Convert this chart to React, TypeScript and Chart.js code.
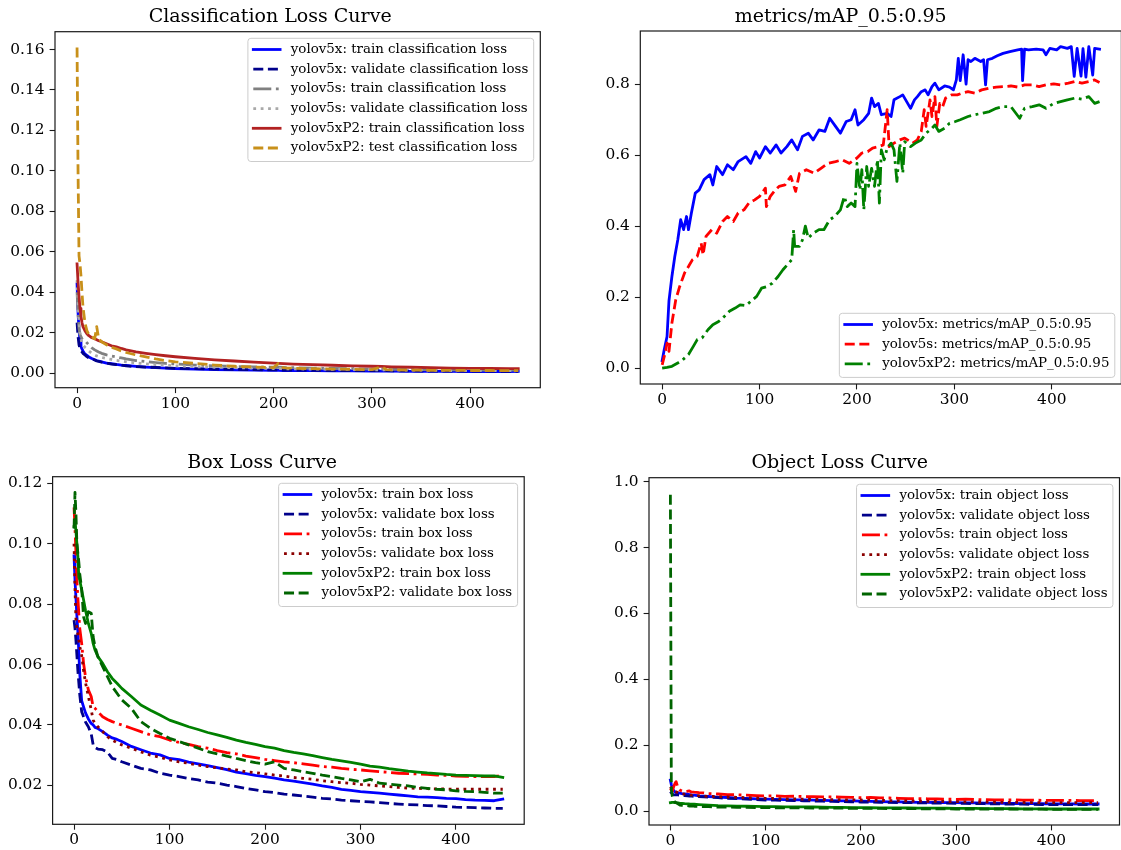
import React, { useEffect, useRef } from "react";
import { Chart, registerables } from "chart.js";

Chart.register(...registerables);

const FONT = "'DejaVu Serif', serif";

// ---------- x ticks (epochs) ----------
const X_TICKS = [0, 100, 200, 300, 400];

// ---------- Classification loss ----------
const CLS_EPOCHS = [0,1,2,3,4,5,6,8,10,12,15,18,20,22,25,30,35,40,45,50,60,70,80,90,100,120,140,160,180,200,205,210,220,240,260,280,300,310,315,320,340,360,380,400,420,440,449];
const CLS_X_TRAIN = [0.044,0.030,0.021,0.016,0.013,0.012,0.011,0.0095,0.0088,0.008,0.0072,0.0066,0.0062,0.006,0.0056,0.005,0.0047,0.0043,0.004,0.0038,0.0033,0.003,0.0027,0.0025,0.0023,0.002,0.0018,0.0016,0.0015,0.0014,0.0014,0.0013,0.0013,0.0012,0.0011,0.0011,0.001,0.001,0.001,0.001,0.0009,0.0009,0.0009,0.0008,0.0008,0.0008,0.0009];
const CLS_X_VAL = [0.025,0.018,0.014,0.012,0.011,0.0105,0.0098,0.009,0.0082,0.0075,0.007,0.0065,0.006,0.0058,0.0055,0.005,0.0045,0.0042,0.004,0.0036,0.0032,0.003,0.0028,0.0026,0.0024,0.0022,0.002,0.0019,0.0017,0.0016,0.0016,0.0015,0.0015,0.0014,0.0013,0.0013,0.0012,0.0012,0.0012,0.0011,0.0011,0.001,0.001,0.001,0.001,0.0009,0.0009];
const CLS_S_TRAIN = [0.04,0.03,0.022,0.019,0.018,0.017,0.0165,0.016,0.015,0.014,0.0125,0.0115,0.011,0.0105,0.0098,0.009,0.0085,0.008,0.0075,0.007,0.0062,0.0057,0.0052,0.0048,0.0045,0.004,0.0036,0.0033,0.0031,0.0029,0.0029,0.0028,0.0027,0.0025,0.0023,0.0022,0.002,0.002,0.002,0.0019,0.0018,0.0017,0.0016,0.0016,0.0015,0.0015,0.0015];
const CLS_S_VAL = [0.046,0.035,0.025,0.02,0.017,0.015,0.014,0.0128,0.012,0.011,0.0098,0.009,0.0085,0.0082,0.0078,0.0072,0.0068,0.0063,0.006,0.0056,0.005,0.0046,0.0042,0.0039,0.0036,0.0032,0.0029,0.0027,0.0025,0.0023,0.0023,0.0022,0.0021,0.002,0.0019,0.0018,0.0017,0.0016,0.0016,0.0016,0.0015,0.0014,0.0013,0.0013,0.0012,0.0012,0.0012];
const CLS_P2_TRAIN = [0.054,0.045,0.038,0.032,0.028,0.025,0.023,0.021,0.0195,0.0185,0.0175,0.017,0.0165,0.016,0.0155,0.0145,0.0135,0.013,0.0122,0.0115,0.0105,0.0098,0.0092,0.0086,0.0081,0.0073,0.0066,0.006,0.0054,0.0049,0.0048,0.0047,0.0045,0.0042,0.0039,0.0036,0.0034,0.0033,0.0032,0.0031,0.0029,0.0027,0.0025,0.0024,0.0023,0.0022,0.0022];
const CLS_P2_TEST = [0.161,0.1,0.058,0.054,0.048,0.04,0.033,0.025,0.021,0.019,0.018,0.017,0.023,0.017,0.0155,0.014,0.0128,0.012,0.011,0.0102,0.009,0.008,0.007,0.0062,0.0056,0.0048,0.004,0.0034,0.003,0.0027,0.0048,0.0026,0.0024,0.0022,0.002,0.0019,0.0017,0.0032,0.0017,0.0016,0.0015,0.0014,0.0014,0.0013,0.0013,0.0012,0.0012];
const CLS_Y_TICKS = [0, 0.02, 0.04, 0.06, 0.08, 0.1, 0.12, 0.14, 0.16];

// ---------- mAP 0.5:0.95 ----------
const MAP_X_EPOCHS = [0,2,5,7,10,13,16,19,22,25,27,30,34,38,43,49,52,56,62,67,73,78,86,91,96,100,106,111,117,122,128,133,139,144,150,155,161,167,172,178,183,189,194,198,201,207,212,215,218,222,225,231,235,238,244,247,251,255,259,262,266,270,273,277,280,284,290,295,299,302,304,306,309,312,314,317,321,327,330,332,334,339,344,350,357,365,369,370,372,376,384,391,394,398,405,409,416,420,423,426,430,432,435,438,442,444,449];
const MAP_X = [0.021,0.05,0.089,0.19,0.258,0.315,0.361,0.418,0.39,0.427,0.39,0.437,0.493,0.502,0.531,0.545,0.516,0.568,0.545,0.573,0.559,0.582,0.596,0.577,0.61,0.592,0.624,0.606,0.629,0.606,0.624,0.643,0.615,0.653,0.662,0.643,0.671,0.667,0.704,0.681,0.662,0.695,0.70,0.728,0.685,0.70,0.718,0.761,0.737,0.746,0.714,0.718,0.709,0.756,0.765,0.77,0.751,0.732,0.756,0.765,0.779,0.784,0.77,0.793,0.803,0.784,0.795,0.792,0.784,0.812,0.873,0.81,0.883,0.80,0.869,0.864,0.873,0.864,0.869,0.798,0.869,0.873,0.88,0.887,0.892,0.897,0.899,0.81,0.899,0.897,0.899,0.897,0.883,0.901,0.897,0.906,0.901,0.906,0.822,0.901,0.823,0.90,0.82,0.906,0.826,0.901,0.899];
const MAP_S_EPOCHS = [0,3,5,7,10,14,18,23,27,31,36,40,42,45,51,56,62,67,73,78,84,89,95,100,106,107,111,115,120,126,132,137,141,148,156,163,170,178,185,192,200,205,211,216,222,227,231,233,238,244,249,257,262,266,269,271,275,277,280,282,285,288,291,297,303,308,314,321,328,336,343,350,358,365,372,380,387,394,402,409,417,424,431,439,444,449];
const MAP_S = [0.009,0.042,0.07,0.047,0.127,0.193,0.23,0.268,0.286,0.305,0.315,0.352,0.319,0.371,0.39,0.38,0.413,0.427,0.413,0.437,0.446,0.465,0.474,0.484,0.507,0.455,0.484,0.498,0.512,0.516,0.54,0.498,0.549,0.559,0.549,0.563,0.577,0.582,0.587,0.577,0.592,0.606,0.61,0.62,0.624,0.629,0.728,0.624,0.634,0.643,0.648,0.634,0.643,0.667,0.728,0.681,0.756,0.709,0.765,0.681,0.746,0.737,0.761,0.77,0.77,0.775,0.779,0.775,0.784,0.789,0.792,0.793,0.795,0.792,0.798,0.798,0.793,0.798,0.801,0.798,0.803,0.808,0.803,0.808,0.812,0.805];
const MAP_P2_EPOCHS = [0,5,10,16,21,27,32,36,41,47,52,58,64,69,75,80,86,91,97,102,108,113,119,124,130,133,135,136,141,144,147,150,155,161,166,172,177,183,187,190,194,198,200,203,205,207,210,212,215,218,221,223,225,228,231,235,238,241,244,247,249,255,260,266,271,277,280,284,290,295,301,306,314,321,328,336,343,350,358,367,372,380,387,394,402,409,416,424,431,438,444,449];
const MAP_P2 = [0,0.002,0.005,0.014,0.023,0.038,0.061,0.08,0.085,0.108,0.122,0.131,0.146,0.16,0.169,0.178,0.176,0.188,0.202,0.225,0.23,0.239,0.258,0.277,0.296,0.305,0.39,0.343,0.343,0.361,0.40,0.366,0.38,0.39,0.39,0.418,0.427,0.446,0.484,0.455,0.465,0.455,0.577,0.502,0.559,0.446,0.568,0.512,0.563,0.512,0.587,0.465,0.615,0.587,0.62,0.634,0.615,0.526,0.634,0.549,0.638,0.624,0.634,0.643,0.662,0.676,0.685,0.667,0.676,0.69,0.695,0.70,0.709,0.714,0.718,0.723,0.732,0.737,0.737,0.704,0.732,0.737,0.742,0.732,0.746,0.751,0.756,0.761,0.758,0.765,0.746,0.751];
const MAP_Y_TICKS = [0, 0.2, 0.4, 0.6, 0.8];

// ---------- Box / Object loss ----------
const LOSS_EPOCHS = [0,1,2,3,4,5,6,8,10,12,15,18,20,22,25,30,35,40,45,50,60,70,80,90,100,110,120,130,140,150,160,170,180,190,200,210,220,230,240,250,260,270,280,290,300,310,320,330,340,350,360,370,380,390,400,410,420,430,440,449];

const BOX_X_TRAIN = [0.096,0.088,0.082,0.076,0.071,0.064,0.057,0.048,0.046,0.044,0.042,0.0405,0.040,0.0392,0.0388,0.0378,0.0366,0.0357,0.0352,0.0345,0.0329,0.0318,0.0307,0.0301,0.0289,0.0285,0.0277,0.0271,0.0265,0.0259,0.0252,0.0244,0.0239,0.0233,0.0229,0.0224,0.0218,0.0214,0.0209,0.0204,0.0198,0.0193,0.0187,0.0183,0.0179,0.0177,0.0174,0.0171,0.0168,0.0165,0.0162,0.0161,0.0159,0.0157,0.0156,0.0153,0.0151,0.015,0.0149,0.0154];
const BOX_X_VAL = [0.0747,0.072,0.068,0.063,0.058,0.054,0.05,0.0444,0.0427,0.041,0.0394,0.037,0.0335,0.0325,0.032,0.0318,0.031,0.0289,0.0285,0.0278,0.0267,0.0256,0.0251,0.024,0.0234,0.0229,0.0223,0.0218,0.0211,0.0207,0.0201,0.0196,0.019,0.0185,0.0179,0.0176,0.0171,0.0168,0.0165,0.0161,0.0157,0.0155,0.0151,0.0149,0.0147,0.0145,0.0143,0.014,0.0138,0.0136,0.0135,0.0133,0.0132,0.013,0.0128,0.0127,0.0126,0.0125,0.0124,0.0124];
const BOX_S_TRAIN = [0.112,0.105,0.097,0.088,0.082,0.077,0.072,0.067,0.0604,0.056,0.0516,0.0494,0.046,0.0455,0.0444,0.0427,0.0418,0.0411,0.0405,0.04,0.0389,0.0378,0.0367,0.0361,0.035,0.0342,0.0336,0.0328,0.0323,0.0315,0.0308,0.0304,0.0297,0.0292,0.0286,0.0282,0.0278,0.0275,0.0271,0.0267,0.0262,0.026,0.0256,0.0253,0.0251,0.0248,0.0245,0.0243,0.024,0.0239,0.0238,0.0236,0.0234,0.0233,0.0231,0.023,0.0229,0.0229,0.0229,0.0234];
const BOX_S_VAL = [0.1,0.085,0.075,0.072,0.07,0.068,0.066,0.063,0.058,0.054,0.0494,0.045,0.0416,0.0405,0.0394,0.0378,0.0361,0.035,0.0341,0.0334,0.0323,0.0311,0.03,0.0293,0.0284,0.0278,0.0273,0.0267,0.0262,0.0258,0.0254,0.0251,0.0245,0.0242,0.0238,0.0234,0.0231,0.0226,0.0223,0.022,0.0215,0.0212,0.0209,0.0207,0.0203,0.0201,0.0198,0.0196,0.0193,0.0191,0.019,0.0189,0.0188,0.0188,0.0187,0.0187,0.0187,0.0187,0.0187,0.0187];
const BOX_P2_TRAIN = [0.1057,0.108,0.104,0.1,0.096,0.089,0.088,0.0847,0.0814,0.078,0.0736,0.0703,0.067,0.0648,0.0626,0.0604,0.0576,0.0554,0.0538,0.0521,0.0494,0.0466,0.0449,0.0433,0.0416,0.0405,0.0394,0.0385,0.0375,0.0367,0.0359,0.035,0.0342,0.0336,0.0328,0.0323,0.0315,0.0309,0.0304,0.0298,0.0292,0.0286,0.0281,0.0276,0.027,0.0264,0.026,0.0255,0.0251,0.0247,0.0244,0.0241,0.0239,0.0236,0.0234,0.0233,0.0232,0.0231,0.0231,0.0226];
const BOX_P2_VAL = [0.105,0.117,0.11,0.1,0.097,0.094,0.09,0.085,0.0758,0.0736,0.0775,0.077,0.0692,0.0659,0.0626,0.0593,0.056,0.0527,0.0505,0.0483,0.0455,0.0411,0.0389,0.0372,0.0356,0.0345,0.0334,0.0323,0.0312,0.0304,0.0297,0.0289,0.0282,0.0275,0.027,0.0278,0.0256,0.0251,0.0245,0.024,0.0234,0.0229,0.0223,0.0218,0.0212,0.022,0.0207,0.0204,0.0201,0.0198,0.0193,0.019,0.0187,0.0185,0.0182,0.018,0.0179,0.0177,0.0174,0.0174];
const BOX_Y_TICKS = [0.02, 0.04, 0.06, 0.08, 0.1, 0.12];

const OBJ_X_TRAIN = [0.094,0.08,0.07,0.064,0.06,0.058,0.056,0.055,0.054,0.053,0.052,0.051,0.05,0.049,0.048,0.046,0.045,0.044,0.043,0.042,0.041,0.039,0.038,0.037,0.036,0.0352,0.0345,0.034,0.0335,0.033,0.0322,0.0316,0.031,0.0305,0.0298,0.0292,0.0285,0.028,0.0275,0.027,0.0265,0.0262,0.0258,0.0255,0.0252,0.0248,0.0244,0.024,0.0236,0.0232,0.0228,0.0225,0.0222,0.022,0.0218,0.0216,0.0214,0.0213,0.0212,0.0212];
const OBJ_X_VAL = [0.059,0.055,0.052,0.05,0.049,0.049,0.0488,0.0487,0.0486,0.048,0.047,0.046,0.0455,0.045,0.0445,0.0435,0.043,0.042,0.0412,0.0405,0.0385,0.0375,0.0362,0.035,0.0334,0.0328,0.0322,0.0316,0.031,0.0304,0.0298,0.0292,0.0286,0.028,0.0273,0.027,0.0266,0.0262,0.0257,0.0253,0.0249,0.0245,0.0241,0.0237,0.0233,0.0229,0.0225,0.0221,0.0217,0.0213,0.021,0.0206,0.0202,0.0198,0.0194,0.0193,0.0193,0.0192,0.0192,0.0192];
const OBJ_S_TRAIN = [0.069,0.064,0.06,0.07,0.078,0.085,0.089,0.07,0.064,0.061,0.059,0.06,0.061,0.058,0.057,0.0557,0.055,0.053,0.0525,0.0516,0.05,0.049,0.048,0.0465,0.0455,0.046,0.0445,0.0448,0.0438,0.0435,0.043,0.0428,0.042,0.0415,0.0405,0.041,0.0398,0.0395,0.0385,0.0375,0.0378,0.037,0.0365,0.036,0.0354,0.0358,0.035,0.0345,0.034,0.0334,0.0338,0.033,0.0328,0.0325,0.0324,0.0322,0.032,0.0318,0.0316,0.0314];
const OBJ_S_VAL = [0.074,0.07,0.065,0.062,0.06,0.059,0.058,0.056,0.0536,0.052,0.051,0.0495,0.0486,0.048,0.0472,0.046,0.045,0.0445,0.044,0.0435,0.0425,0.0415,0.0405,0.0395,0.0385,0.0378,0.0372,0.0366,0.036,0.0354,0.035,0.0346,0.0342,0.0338,0.0334,0.0328,0.0322,0.0316,0.031,0.0304,0.03,0.0296,0.0292,0.0288,0.0283,0.0279,0.0275,0.0271,0.0267,0.0263,0.0261,0.0259,0.0257,0.0255,0.0253,0.0253,0.0253,0.0253,0.0253,0.0253];
const OBJ_P2_TRAIN = [0.0253,0.0258,0.026,0.026,0.0258,0.0255,0.0252,0.0245,0.0233,0.0228,0.0222,0.0218,0.0213,0.021,0.0205,0.0196,0.0187,0.018,0.0172,0.0162,0.0155,0.015,0.0145,0.014,0.0132,0.013,0.0128,0.0126,0.0124,0.0121,0.0117,0.0113,0.0109,0.0105,0.0101,0.0099,0.0097,0.0095,0.0093,0.0091,0.0089,0.0087,0.0085,0.0083,0.0081,0.0079,0.0077,0.0075,0.0073,0.0071,0.0069,0.0067,0.0065,0.0063,0.0061,0.0061,0.0061,0.0061,0.0061,0.0061];
const OBJ_P2_VAL = [0.96,0.065,0.045,0.035,0.03,0.027,0.025,0.022,0.0182,0.0175,0.017,0.016,0.0152,0.015,0.0145,0.014,0.0135,0.013,0.0125,0.0121,0.0117,0.0113,0.011,0.0105,0.0101,0.0099,0.0097,0.0095,0.0093,0.0091,0.0089,0.0087,0.0085,0.0083,0.0081,0.0079,0.0077,0.0075,0.0073,0.0071,0.0069,0.0067,0.0065,0.0063,0.0061,0.0061,0.0061,0.0061,0.0061,0.0061,0.006,0.0058,0.0056,0.0054,0.0052,0.0051,0.0051,0.0051,0.0051,0.0051];
const OBJ_Y_TICKS = [0, 0.2, 0.4, 0.6, 0.8, 1.0];

// ---------- styles ----------
const LW = 2.8;
const SOLID: number[] = [];
const DASHED = [10, 4.6];
const DOTTED = [2.8, 4.6];
const DASHDOT = [18, 4.6, 2.8, 4.6];

type Series = { label: string; x: number[]; y: number[]; color: string; dash: number[] };

type PanelSpec = {
  title: string;
  left: number; top: number; w: number; h: number;
  yAxisW: number; xAxisH: number; padRight: number;
  titlePadTop: number; titlePadBottom: number;
  yMin: number; yMax: number; yTicks: number[]; yDec: number;
  legendLoc: "upper right" | "lower right";
  series: Series[];
};

const PANELS: PanelSpec[] = [
  {
    title: "Classification Loss Curve",
    left: 0, top: 0, w: 560, h: 425,
    yAxisW: 55, xAxisH: 37.3, padRight: 19.7,
    titlePadTop: 6, titlePadBottom: 2.9,
    yMin: -0.0072, yMax: 0.1688, yTicks: CLS_Y_TICKS, yDec: 2,
    legendLoc: "upper right",
    series: [
      { label: "yolov5x: train classification loss", x: CLS_EPOCHS, y: CLS_X_TRAIN, color: "#0000ff", dash: SOLID },
      { label: "yolov5x: validate classification loss", x: CLS_EPOCHS, y: CLS_X_VAL, color: "#00008b", dash: DASHED },
      { label: "yolov5s: train classification loss", x: CLS_EPOCHS, y: CLS_S_TRAIN, color: "#808080", dash: DASHDOT },
      { label: "yolov5s: validate classification loss", x: CLS_EPOCHS, y: CLS_S_VAL, color: "#a9a9a9", dash: DOTTED },
      { label: "yolov5xP2: train classification loss", x: CLS_EPOCHS, y: CLS_P2_TRAIN, color: "#b22222", dash: SOLID },
      { label: "yolov5xP2: test classification loss", x: CLS_EPOCHS, y: CLS_P2_TEST, color: "#c8901a", dash: DASHED },
    ],
  },
  {
    title: "metrics/mAP_0.5:0.95",
    left: 560, top: 0, w: 570, h: 425,
    yAxisW: 80.3, xAxisH: 41, padRight: 8.6,
    titlePadTop: 6, titlePadBottom: 2.2,
    yMin: -0.045, yMax: 0.95, yTicks: MAP_Y_TICKS, yDec: 1,
    legendLoc: "lower right",
    series: [
      { label: "yolov5x: metrics/mAP_0.5:0.95", x: MAP_X_EPOCHS, y: MAP_X, color: "#0000ff", dash: SOLID },
      { label: "yolov5s: metrics/mAP_0.5:0.95", x: MAP_S_EPOCHS, y: MAP_S, color: "#ff0000", dash: DASHED },
      { label: "yolov5xP2: metrics/mAP_0.5:0.95", x: MAP_P2_EPOCHS, y: MAP_P2, color: "#008000", dash: DASHDOT },
    ],
  },
  {
    title: "Box Loss Curve",
    left: 0, top: 425, w: 560, h: 425,
    yAxisW: 52.6, xAxisH: 25.7, padRight: 35.8,
    titlePadTop: 27, titlePadBottom: 1.9,
    yMin: 0.0071, yMax: 0.1222, yTicks: BOX_Y_TICKS, yDec: 2,
    legendLoc: "upper right",
    series: [
      { label: "yolov5x: train box loss", x: LOSS_EPOCHS, y: BOX_X_TRAIN, color: "#0000ff", dash: SOLID },
      { label: "yolov5x: validate box loss", x: LOSS_EPOCHS, y: BOX_X_VAL, color: "#00008b", dash: DASHED },
      { label: "yolov5s: train box loss", x: LOSS_EPOCHS, y: BOX_S_TRAIN, color: "#ff0000", dash: DASHDOT },
      { label: "yolov5s: validate box loss", x: LOSS_EPOCHS, y: BOX_S_VAL, color: "#8b0000", dash: DOTTED },
      { label: "yolov5xP2: train box loss", x: LOSS_EPOCHS, y: BOX_P2_TRAIN, color: "#008000", dash: SOLID },
      { label: "yolov5xP2: validate box loss", x: LOSS_EPOCHS, y: BOX_P2_VAL, color: "#006400", dash: DASHED },
    ],
  },
  {
    title: "Object Loss Curve",
    left: 560, top: 425, w: 570, h: 425,
    yAxisW: 89, xAxisH: 25, padRight: 10.5,
    titlePadTop: 27, titlePadBottom: 2.9,
    yMin: -0.0425, yMax: 1.012, yTicks: OBJ_Y_TICKS, yDec: 1,
    legendLoc: "upper right",
    series: [
      { label: "yolov5x: train object loss", x: LOSS_EPOCHS, y: OBJ_X_TRAIN, color: "#0000ff", dash: SOLID },
      { label: "yolov5x: validate object loss", x: LOSS_EPOCHS, y: OBJ_X_VAL, color: "#00008b", dash: DASHED },
      { label: "yolov5s: train object loss", x: LOSS_EPOCHS, y: OBJ_S_TRAIN, color: "#ff0000", dash: DASHDOT },
      { label: "yolov5s: validate object loss", x: LOSS_EPOCHS, y: OBJ_S_VAL, color: "#8b0000", dash: DOTTED },
      { label: "yolov5xP2: train object loss", x: LOSS_EPOCHS, y: OBJ_P2_TRAIN, color: "#008000", dash: SOLID },
      { label: "yolov5xP2: validate object loss", x: LOSS_EPOCHS, y: OBJ_P2_VAL, color: "#006400", dash: DASHED },
    ],
  },
];

// ---------- frame + legend plugin ----------
const decorPlugin = {
  id: "panelDecor",
  afterDatasetsDraw(chart: any, _args: any, opts: any) {
    const { ctx, chartArea } = chart;
    const { left, right, top, bottom } = chartArea;
    ctx.save();
    ctx.setLineDash([]);
    ctx.lineWidth = 1.2;
    ctx.strokeStyle = "#1a1a1a";
    ctx.strokeRect(left, top, right - left, bottom - top);

    const items: Series[] = opts.items || [];
    const fs = 13.4;
    ctx.font = `${fs}px ${FONT}`;
    let textW = 0;
    items.forEach((it) => { textW = Math.max(textW, ctx.measureText(it.label).width); });
    const pad = 5.4, handle = 26.8, gapT = 10.7, rowH = 19.7, inset = 6.6;
    const boxW = pad + handle + gapT + textW + pad;
    const boxH = items.length * rowH + 5;
    const bx = right - inset - boxW;
    const by = opts.loc === "lower right" ? bottom - inset - boxH : top + inset;
    const r = 3;
    ctx.beginPath();
    ctx.moveTo(bx + r, by);
    ctx.lineTo(bx + boxW - r, by);
    ctx.arcTo(bx + boxW, by, bx + boxW, by + r, r);
    ctx.lineTo(bx + boxW, by + boxH - r);
    ctx.arcTo(bx + boxW, by + boxH, bx + boxW - r, by + boxH, r);
    ctx.lineTo(bx + r, by + boxH);
    ctx.arcTo(bx, by + boxH, bx, by + boxH - r, r);
    ctx.lineTo(bx, by + r);
    ctx.arcTo(bx, by, bx + r, by, r);
    ctx.closePath();
    ctx.fillStyle = "rgba(255,255,255,0.8)";
    ctx.fill();
    ctx.lineWidth = 1;
    ctx.strokeStyle = "#cccccc";
    ctx.stroke();

    items.forEach((it, i) => {
      const cy = by + 11.2 + i * rowH;
      ctx.beginPath();
      ctx.setLineDash(it.dash);
      ctx.lineCap = it.dash.length ? "butt" : "square";
      ctx.strokeStyle = it.color;
      ctx.lineWidth = LW;
      ctx.moveTo(bx + pad, cy);
      ctx.lineTo(bx + pad + handle, cy);
      ctx.stroke();
      ctx.setLineDash([]);
      ctx.fillStyle = "#000";
      ctx.textBaseline = "middle";
      ctx.textAlign = "left";
      ctx.fillText(it.label, bx + pad + handle + gapT, cy);
    });
    ctx.restore();
  },
};

function buildConfig(spec: PanelSpec): any {
  const n = spec.series.length;
  const tickFont = { family: FONT, size: 15.4, lineHeight: 1.2 };
  return {
    type: "line",
    data: {
      datasets: spec.series.map((s, i) => ({
        label: s.label,
        data: s.x.map((x, j) => ({ x, y: s.y[j] })),
        borderColor: s.color,
        backgroundColor: s.color,
        borderWidth: LW,
        borderDash: s.dash,
        borderCapStyle: s.dash.length ? "butt" : "square",
        borderJoinStyle: "round",
        pointRadius: 0,
        pointHoverRadius: 0,
        pointHitRadius: 0,
        tension: 0,
        fill: false,
        order: n - i,
      })),
    },
    options: {
      responsive: false,
      maintainAspectRatio: false,
      animation: false,
      devicePixelRatio: 1,
      events: [],
      layout: { padding: { left: 0, right: spec.padRight, top: 0, bottom: 0 } },
      plugins: {
        legend: { display: false },
        tooltip: { enabled: false },
        title: {
          display: true,
          text: spec.title,
          color: "#000",
          font: { family: FONT, size: 19, weight: "normal", lineHeight: 1.2 },
          padding: { top: spec.titlePadTop, bottom: spec.titlePadBottom },
        },
        panelDecor: { items: spec.series, loc: spec.legendLoc },
      },
      scales: {
        x: {
          type: "linear",
          min: -22.45,
          max: 471.45,
          afterBuildTicks: (s: any) => { s.ticks = X_TICKS.map((v) => ({ value: v })); },
          afterFit: (s: any) => { s.height = spec.xAxisH; },
          ticks: {
            font: tickFont, color: "#000", padding: 1.5,
            autoSkip: false, maxRotation: 0, minRotation: 0,
            callback: (v: any) => String(v),
          },
          grid: { display: true, drawOnChartArea: false, drawTicks: true, tickLength: 5.4, tickColor: "#1a1a1a", tickWidth: 1.1, color: "#1a1a1a" },
          border: { display: false },
        },
        y: {
          type: "linear",
          min: spec.yMin,
          max: spec.yMax,
          afterBuildTicks: (s: any) => { s.ticks = spec.yTicks.map((v) => ({ value: v })); },
          afterFit: (s: any) => { s.width = spec.yAxisW; },
          ticks: {
            font: tickFont, color: "#000", padding: 5,
            autoSkip: false,
            callback: (v: any) => Number(v).toFixed(spec.yDec),
          },
          grid: { display: true, drawOnChartArea: false, drawTicks: true, tickLength: 5.4, tickColor: "#1a1a1a", tickWidth: 1.1, color: "#1a1a1a" },
          border: { display: false },
        },
      },
    },
    plugins: [decorPlugin],
  };
}

function Panel({ spec }: { spec: PanelSpec }) {
  const ref = useRef<HTMLCanvasElement | null>(null);
  useEffect(() => {
    if (!ref.current) return;
    const chart = new Chart(ref.current, buildConfig(spec));
    return () => chart.destroy();
  }, [spec]);
  return (
    <canvas
      ref={ref}
      width={spec.w}
      height={spec.h}
      style={{ position: "absolute", left: spec.left, top: spec.top, width: spec.w, height: spec.h }}
    />
  );
}

export default function App() {
  return (
    <div
      style={{
        position: "fixed",
        left: 0,
        top: 0,
        width: 1121,
        height: 850,
        overflow: "hidden",
        background: "#ffffff",
      }}
    >
      {PANELS.map((p) => (
        <Panel key={p.title} spec={p} />
      ))}
    </div>
  );
}
